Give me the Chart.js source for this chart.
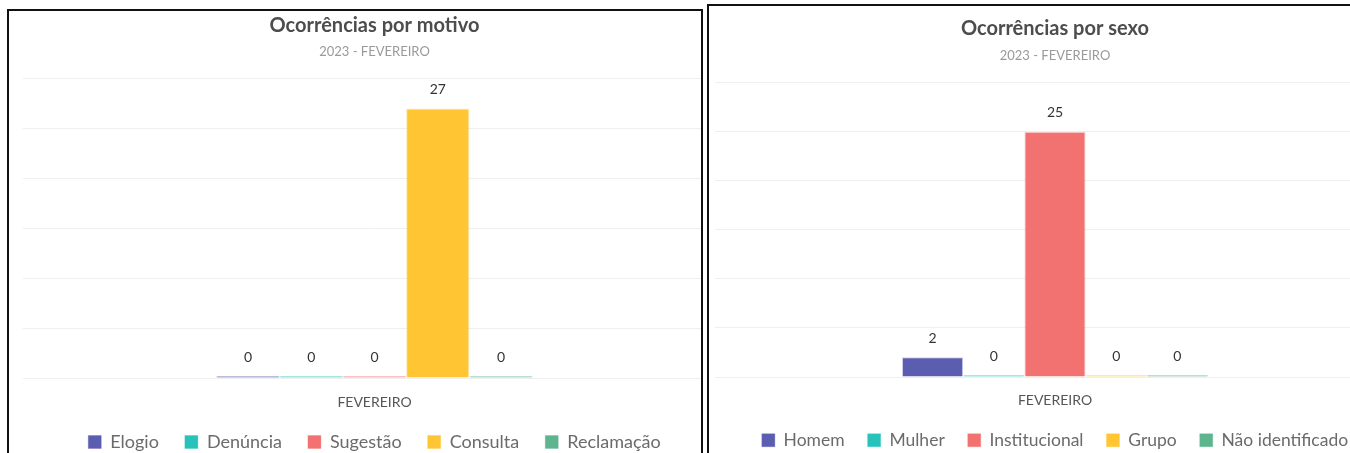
<!DOCTYPE html>
<html>
<head>
<meta charset="utf-8">
<script src="https://cdn.jsdelivr.net/npm/chart.js@4"></script>
<style>
  body { margin: 0; width: 1350px; height: 453px; overflow: hidden; background: #fff; position: relative; }
  .panel { position: absolute; box-sizing: border-box; border: 2px solid #111; overflow: hidden; background: #fff; }
  .panel canvas { position: absolute; }
</style>
</head>
<body>
<div class="panel" style="left:7px;top:9px;width:696px;height:470px">
  <canvas id="motivo" width="730" height="453" style="left:1px;top:0"></canvas>
</div>
<div class="panel" style="left:707px;top:4px;width:720px;height:470px">
  <canvas id="sexo" width="700" height="453" style="left:0;top:0"></canvas>
</div>
<script>
// data
const months = ['FEVEREIRO'];
const subtitleText = '2023 - FEVEREIRO';

const motivoLabels = ['Elogio', 'Denúncia', 'Sugestão', 'Consulta', 'Reclamação'];
const motivoValues = [0, 0, 0, 27, 0];

const sexoLabels = ['Homem', 'Mulher', 'Institucional', 'Grupo', 'Não identificado'];
const sexoValues = [2, 0, 25, 0, 0];

const yMax = 30;
const yStep = 5;

const colors = ['#5b5eb0', '#27c3bb', '#f17270', '#ffc533', '#5db48e'];

function tint(hex, a) {
    const n = parseInt(hex.slice(1), 16);
    return `rgba(${n >> 16},${(n >> 8) & 255},${n & 255},${a})`;
}

// value labels above each bar
const valueLabels = {
    id: 'valueLabels',
    afterDatasetsDraw(chart) {
        const ctx = chart.ctx;
        ctx.save();
        ctx.font = '14px Lato';
        ctx.fillStyle = '#333';
        ctx.textAlign = 'center';
        ctx.textBaseline = 'middle';
        chart.data.datasets.forEach((ds, i) => {
            chart.getDatasetMeta(i).data.forEach((bar, j) => {
                ctx.fillText(ds.data[j], bar.x, bar.y - 19);
            });
        });
        ctx.restore();
    }
};

function makeChart(id, title, labels, values, lay) {
    const datasets = labels.map((name, i) => ({
        label: name,
        data: [values[i]],
        backgroundColor: colors[i],
        borderColor: tint(colors[i], 0.3),
        borderWidth: 1,
        minBarLength: 2,
        categoryPercentage: 0.45,
        barPercentage: 1
    }));

    return new Chart(document.getElementById(id), {
        type: 'bar',
        data: { labels: months, datasets: datasets },
        plugins: [valueLabels],
        options: {
            responsive: false,
            animation: false,
            layout: { padding: lay.pad },
            plugins: {
                title: {
                    display: true,
                    text: title,
                    color: '#4d4d4d',
                    font: { family: 'Lato', size: 20, weight: 'bold' },
                    padding: { top: 3, bottom: 0 }
                },
                subtitle: {
                    display: true,
                    text: subtitleText,
                    color: '#9a9a9a',
                    font: { family: 'Lato', size: 13 },
                    padding: { top: lay.subTop, bottom: 19 }
                },
                legend: {
                    position: 'bottom',
                    labels: {
                        boxWidth: 13,
                        boxHeight: 13,
                        padding: lay.legPad,
                        color: '#6b6b6b',
                        font: { family: 'Lato', size: lay.legSize }
                    }
                },
                tooltip: { enabled: false }
            },
            scales: {
                x: {
                    grid: { display: false, drawTicks: false },
                    border: { display: false },
                    ticks: { color: '#555', padding: lay.tickPad, font: { family: 'Lato', size: 14 } },
                    afterFit: (scale) => { scale.height = lay.axisH; }
                },
                y: {
                    min: 0,
                    max: yMax,
                    ticks: { display: false, stepSize: yStep },
                    grid: { color: '#efefef', drawTicks: false },
                    border: { display: false }
                }
            }
        }
    });
}

makeChart('motivo', 'Ocorrências por motivo', motivoLabels, motivoValues,
    { pad: { left: 13, right: 14, top: 0, bottom: 3 }, subTop: 6, tickPad: 15.6, axisH: 29,
      legPad: 26, legSize: 18 });
makeChart('sexo', 'Ocorrências por sexo', sexoLabels, sexoValues,
    { pad: { left: 6, right: 14, top: 8, bottom: 0 }, subTop: 7, tickPad: 14.6, axisH: 31.5,
      legPad: 23, legSize: 17.5 });
</script>
</body>
</html>
